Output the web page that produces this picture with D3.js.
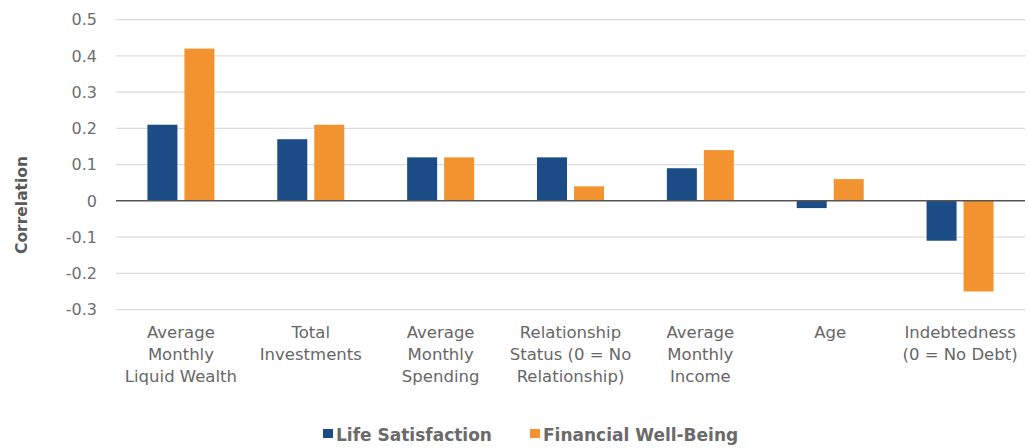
<!DOCTYPE html>
<html><head><meta charset="utf-8">
<script src="https://cdn.jsdelivr.net/npm/d3@7"></script>
<style>body{margin:0;background:#fff;}svg{display:block;}</style>
</head><body>
<svg id="c" width="1029" height="448"></svg>
<script>
const categories = [
  ["Average","Monthly","Liquid Wealth"],
  ["Total","Investments"],
  ["Average","Monthly","Spending"],
  ["Relationship","Status (0 = No","Relationship)"],
  ["Average","Monthly","Income"],
  ["Age"],
  ["Indebtedness","(0 = No Debt)"]
];
const seriesNames = ["Life Satisfaction","Financial Well-Being"];
const lifeSatisfaction = [0.21,0.17,0.12,0.12,0.09,-0.02,-0.11];
const financialWellBeing = [0.42,0.21,0.12,0.04,0.14,0.06,-0.25];
const yTicks = [0.5,0.4,0.3,0.2,0.1,0,-0.1,-0.2,-0.3];
const colors = ["#1c4c86","#f29330"];

const svg = d3.select("#c");
const font = "'DejaVu Sans', sans-serif";
const x = d3.scaleBand().domain(d3.range(categories.length)).range([116,1025]).paddingInner(0).paddingOuter(0);
const y = d3.scaleLinear().domain([-0.3,0.5]).range([309.6,19.6]);

// gridlines
svg.append("g").selectAll("line").data(yTicks.filter(t=>t!==0)).join("line")
  .attr("x1",116).attr("x2",1025).attr("y1",d=>y(d)).attr("y2",d=>y(d))
  .attr("stroke","#dcdcdc").attr("stroke-width",1.2);

// y tick labels
svg.append("g").selectAll("text").data(yTicks).join("text")
  .attr("x",97).attr("y",d=>y(d)).attr("dy","0.36em").attr("text-anchor","end")
  .attr("font-family",font).attr("font-size",16).attr("fill","#6e6e6e")
  .text(d=>d===0?"0":d3.format(".1f")(d).replace("−","-"));

// y title
svg.append("text").attr("transform","translate(27,205) rotate(-90)")
  .attr("text-anchor","middle").attr("font-family",font).attr("font-size",15.5)
  .attr("font-weight","bold").attr("fill","#5a5a5a").text("Correlation");

const bw = 30, gap = 7;
const data = [lifeSatisfaction, financialWellBeing];
data.forEach((vals,si)=>{
  svg.append("g").selectAll("rect").data(vals).join("rect")
    .attr("x",(d,i)=>x(i)+x.bandwidth()/2 + (si===0 ? -gap/2-bw : gap/2))
    .attr("width",bw)
    .attr("y",d=>y(Math.max(0,d)))
    .attr("height",d=>Math.abs(y(d)-y(0)))
    .attr("fill",colors[si]);
});

// zero line
svg.append("line").attr("x1",116).attr("x2",1025).attr("y1",y(0)).attr("y2",y(0))
  .attr("stroke","#555").attr("stroke-width",1.5);

// category labels
const cg = svg.append("g").selectAll("text").data(categories).join("text")
  .attr("text-anchor","middle").attr("font-family",font).attr("font-size",16.5).attr("fill","#666");
cg.each(function(lines,i){
  d3.select(this).selectAll("tspan").data(lines).join("tspan")
    .attr("x",x(i)+x.bandwidth()/2).attr("y",(d,j)=>338+j*22).text(d=>d);
});

// legend
const legX = [323,530];
seriesNames.forEach((n,i)=>{
  svg.append("rect").attr("x",legX[i]).attr("y",429).attr("width",10).attr("height",9).attr("fill",colors[i]);
  svg.append("text").attr("x",legX[i]+13).attr("y",441).attr("font-family",font)
    .attr("font-size",17).attr("font-weight","bold").attr("fill","#6a6a6a").text(n);
});
</script>
</body></html>
